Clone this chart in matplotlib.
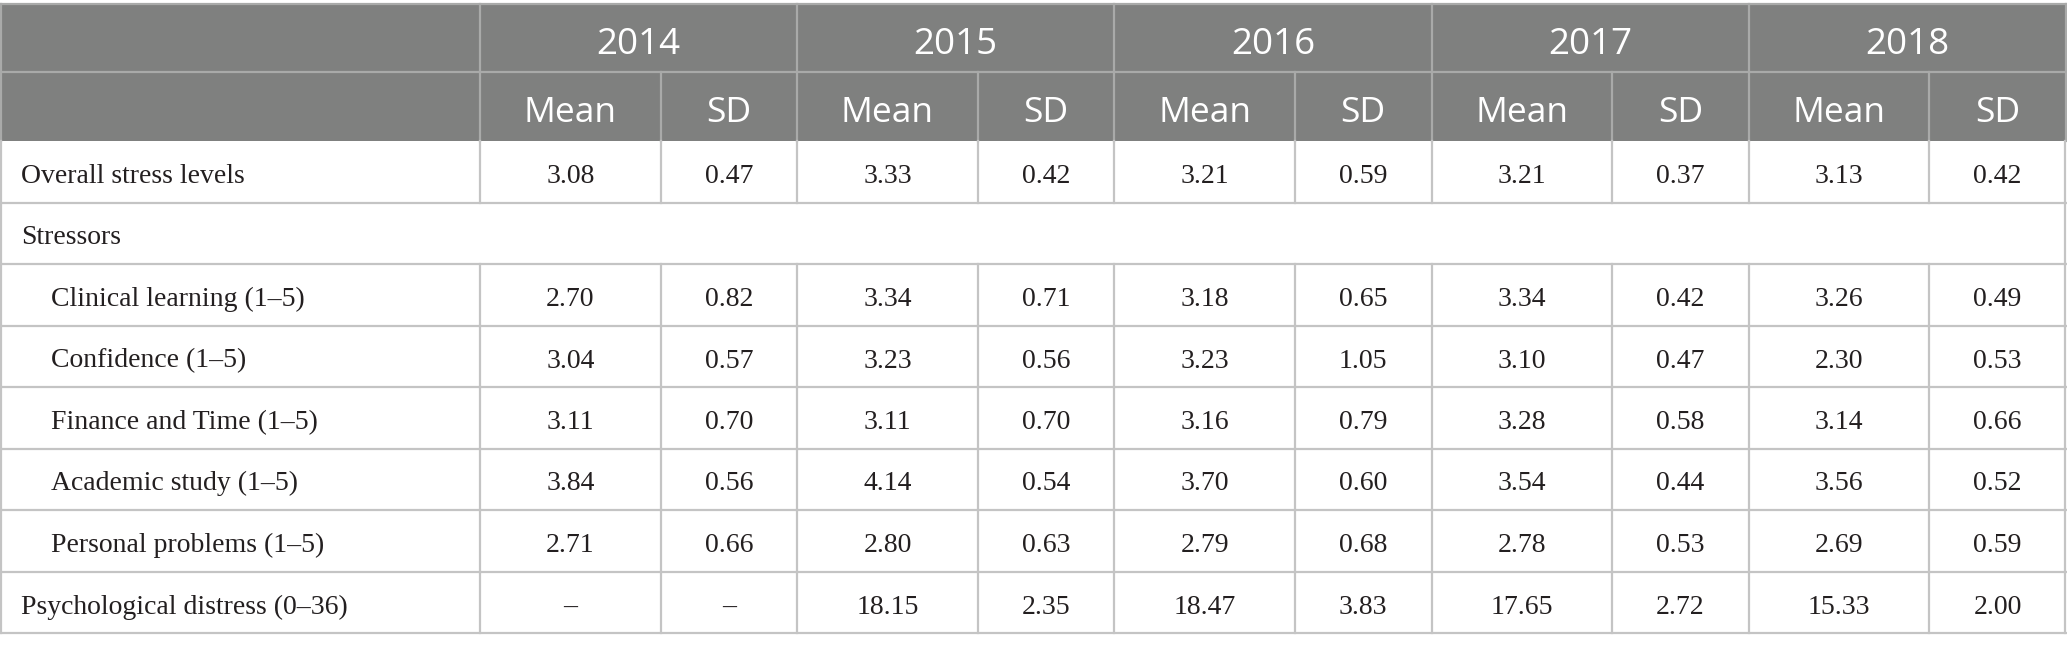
import matplotlib
matplotlib.use("Agg")
import matplotlib.pyplot as plt
from matplotlib.patches import Rectangle

# ---------------- data ----------------
years = ["2014", "2015", "2016", "2017", "2018"]
sub_headers = ["Mean", "SD"]
row_labels = [
    "Overall stress levels",
    "Stressors",
    "Clinical learning (1–5)",
    "Confidence (1–5)",
    "Finance and Time (1–5)",
    "Academic study (1–5)",
    "Personal problems (1–5)",
    "Psychological distress (0–36)",
]
indented = [False, False, True, True, True, True, True, False]
section_row = [False, True, False, False, False, False, False, False]

overall_mean = [3.08, 3.33, 3.21, 3.21, 3.13]
overall_sd = [0.47, 0.42, 0.59, 0.37, 0.42]
clinical_mean = [2.70, 3.34, 3.18, 3.34, 3.26]
clinical_sd = [0.82, 0.71, 0.65, 0.42, 0.49]
confidence_mean = [3.04, 3.23, 3.23, 3.10, 2.30]
confidence_sd = [0.57, 0.56, 1.05, 0.47, 0.53]
finance_mean = [3.11, 3.11, 3.16, 3.28, 3.14]
finance_sd = [0.70, 0.70, 0.79, 0.58, 0.66]
academic_mean = [3.84, 4.14, 3.70, 3.54, 3.56]
academic_sd = [0.56, 0.54, 0.60, 0.44, 0.52]
personal_mean = [2.71, 2.80, 2.79, 2.78, 2.69]
personal_sd = [0.66, 0.63, 0.68, 0.53, 0.59]
distress_mean = [None, 18.15, 18.47, 17.65, 15.33]
distress_sd = [None, 2.35, 3.83, 2.72, 2.00]

row_values = [
    (overall_mean, overall_sd),
    None,
    (clinical_mean, clinical_sd),
    (confidence_mean, confidence_sd),
    (finance_mean, finance_sd),
    (academic_mean, academic_sd),
    (personal_mean, personal_sd),
    (distress_mean, distress_sd),
]

# ---------------- layout ----------------
W, H = 2067, 651
label_w = 480
mean_w = 180.5
sd_w = 136.7
table_top = 4
hdr_h = [68, 69]
row_h = 61.5
header_bg = "#7f807f"
header_line = "#a9aaa9"
body_line = "#c4c4c4"
text_col = "#231f20"

fig = plt.figure(figsize=(W / 100, H / 100), dpi=100)
ax = fig.add_axes([0, 0, 1, 1])
ax.set_xlim(0, W)
ax.set_ylim(H, 0)
ax.axis("off")

# column edges
col_edges = [0, label_w]
for _ in years:
    col_edges.append(col_edges[-1] + mean_w)
    col_edges.append(col_edges[-1] + sd_w)
right = col_edges[-1]

h1_top = table_top
h1_bot = h1_top + hdr_h[0]
h2_bot = h1_bot + hdr_h[1]
body_top = h2_bot
n_rows = len(row_labels)

# header background
ax.add_patch(Rectangle((0, h1_top), right, h2_bot - h1_top, facecolor=header_bg,
                       edgecolor="none", zorder=1))

hfont = dict(family=["Open Sans", "DejaVu Sans"], color="white")
bfont = dict(family=["Liberation Serif", "DejaVu Serif"], color=text_col, fontsize=20)

# header lines
lw = 1.6
ax.plot([0, right], [h1_top, h1_top], color=header_line, lw=lw, zorder=2)
ax.plot([0, right], [h1_bot, h1_bot], color=header_line, lw=lw, zorder=2)
for i, y in enumerate(years):
    x0 = col_edges[1 + 2 * i]
    x1 = col_edges[3 + 2 * i]
    ax.plot([x0, x0], [h1_top, h2_bot], color=header_line, lw=lw, zorder=2)
    xm = col_edges[2 + 2 * i]
    ax.plot([xm, xm], [h1_bot, h2_bot], color=header_line, lw=lw, zorder=2)
    ax.text((x0 + x1) / 2, h1_top + 50, y, ha="center", va="baseline",
            fontsize=26.5, zorder=3, **hfont)
    for j, sh in enumerate(sub_headers):
        a = col_edges[1 + 2 * i + j]
        b = col_edges[2 + 2 * i + j]
        ax.text((a + b) / 2, h1_bot + 50, sh, ha="center", va="baseline",
                fontsize=25.5, zorder=3, **hfont)
ax.plot([right, right], [h1_top, h2_bot], color=header_line, lw=lw, zorder=2)
ax.plot([0.8, 0.8], [h1_top, h2_bot], color=header_line, lw=lw, zorder=2)


def fmt(v):
    return "–" if v is None else f"{v:.2f}"


# body
for r, lab in enumerate(row_labels):
    yt = body_top + r * row_h
    yb = yt + row_h
    ybase = yt + 42
    ax.plot([0, right], [yb, yb], color=body_line, lw=lw, zorder=2)
    ax.plot([0.8, 0.8], [yt, yb], color=body_line, lw=lw, zorder=2)
    ax.plot([right - 0.8, right - 0.8], [yt, yb], color=body_line, lw=lw, zorder=2)
    x_text = 51 if indented[r] else 21
    ax.text(x_text, ybase, lab, ha="left", va="baseline", **bfont)
    if section_row[r]:
        continue
    for e in col_edges[1:-1]:
        ax.plot([e, e], [yt, yb], color=body_line, lw=lw, zorder=2)
    means, sds = row_values[r]
    for i in range(len(years)):
        for j, v in enumerate((means[i], sds[i])):
            a = col_edges[1 + 2 * i + j]
            b = col_edges[2 + 2 * i + j]
            ax.text((a + b) / 2, ybase, fmt(v), ha="center", va="baseline", **bfont)

fig.savefig("out.png", dpi=100, facecolor="white")
